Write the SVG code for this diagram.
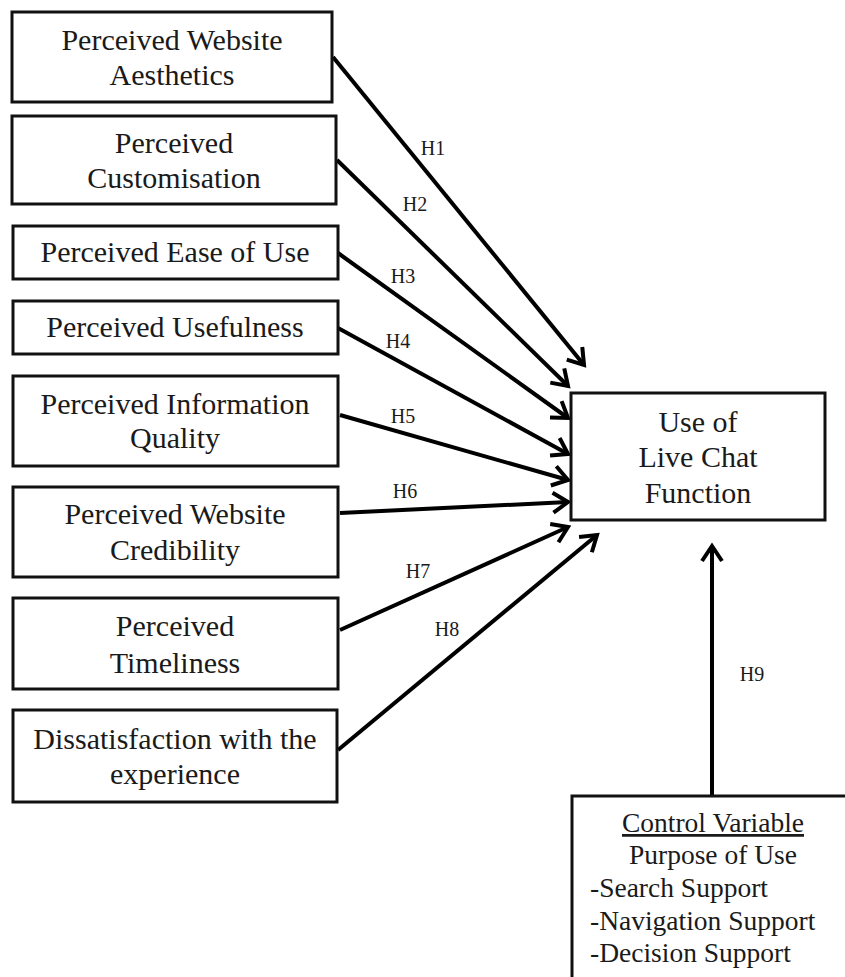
<svg xmlns="http://www.w3.org/2000/svg" width="845" height="977" viewBox="0 0 845 977">
<style>
.box{fill:#fff;stroke:#111;stroke-width:3}
.t{font-family:"Liberation Serif","Times New Roman",serif;font-size:30px;fill:#1a1a1a;text-anchor:middle}
.c{font-family:"Liberation Serif","Times New Roman",serif;font-size:27.5px;fill:#1a1a1a}
.h{font-family:"Liberation Serif","Times New Roman",serif;font-size:20px;fill:#1a1a1a;text-anchor:middle}
.ln{stroke:#000;stroke-width:4;fill:none;marker-end:url(#arr)}
</style>
<defs>
<marker id="arr" markerUnits="userSpaceOnUse" viewBox="-20 -12 24 24" refX="0" refY="0" markerWidth="24" markerHeight="24" orient="auto">
<path d="M-15,-10 L0,0 L-15,10" fill="none" stroke="#000" stroke-width="4" stroke-linejoin="miter"/>
</marker>
</defs>
<rect width="845" height="977" fill="#fff"/>
<g id="connectors">
<line class="ln" x1="333" y1="57" x2="584" y2="365"/>
<line class="ln" x1="337" y1="160" x2="568" y2="386"/>
<line class="ln" x1="338" y1="253" x2="568" y2="418"/>
<line class="ln" x1="338" y1="328" x2="568" y2="454"/>
<line class="ln" x1="340" y1="415" x2="568" y2="480"/>
<line class="ln" x1="340" y1="513" x2="568" y2="502"/>
<line class="ln" x1="340" y1="630" x2="568" y2="527"/>
<line class="ln" x1="338" y1="750" x2="597" y2="535"/>
<line class="ln" x1="712" y1="796" x2="712" y2="546"/>
<text class="h" x="433" y="155">H1</text>
<text class="h" x="415" y="211">H2</text>
<text class="h" x="403" y="283">H3</text>
<text class="h" x="398" y="348">H4</text>
<text class="h" x="403" y="423">H5</text>
<text class="h" x="405" y="498">H6</text>
<text class="h" x="418" y="578">H7</text>
<text class="h" x="447" y="636">H8</text>
<text class="h" x="752" y="681">H9</text>
</g>
<g id="n1"><rect class="box" x="12" y="12" width="320" height="90"/><text class="t" x="172" y="50">Perceived Website</text><text class="t" x="172" y="85">Aesthetics</text></g>
<g id="n2"><rect class="box" x="12" y="116" width="324" height="88"/><text class="t" x="174" y="153">Perceived</text><text class="t" x="174" y="188">Customisation</text></g>
<g id="n3"><rect class="box" x="13" y="226" width="325" height="53"/><text class="t" x="175" y="262">Perceived Ease of Use</text></g>
<g id="n4"><rect class="box" x="13" y="301" width="325" height="53"/><text class="t" x="175" y="337">Perceived Usefulness</text></g>
<g id="n5"><rect class="box" x="13" y="376" width="325" height="90"/><text class="t" x="175" y="414">Perceived Information</text><text class="t" x="175" y="448">Quality</text></g>
<g id="n6"><rect class="box" x="13" y="487" width="325" height="90"/><text class="t" x="175" y="524">Perceived Website</text><text class="t" x="175" y="560">Credibility</text></g>
<g id="n7"><rect class="box" x="13" y="598" width="325" height="91"/><text class="t" x="175" y="636">Perceived</text><text class="t" x="175" y="673">Timeliness</text></g>
<g id="n8"><rect class="box" x="13" y="710" width="324" height="92"/><text class="t" x="175" y="749">Dissatisfaction with the</text><text class="t" x="175" y="784">experience</text></g>
<g id="target"><rect class="box" x="571" y="393" width="254" height="127"/><text class="t" x="698" y="432">Use of</text><text class="t" x="698" y="467">Live Chat</text><text class="t" x="698" y="503">Function</text></g>
<g id="control"><rect class="box" x="572" y="796" width="300" height="250"/>
<text class="c" x="713" y="832" text-anchor="middle" text-decoration="underline">Control Variable</text>
<text class="c" x="713" y="864" text-anchor="middle">Purpose of Use</text>
<text class="c" x="590" y="897">-Search Support</text>
<text class="c" x="590" y="930">-Navigation Support</text>
<text class="c" x="590" y="962">-Decision Support</text>
</g>
</svg>
